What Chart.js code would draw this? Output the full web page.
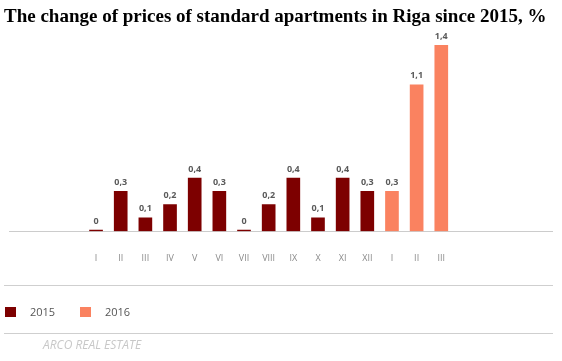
<!DOCTYPE html>
<html>
<head>
<meta charset="utf-8">
<script src="https://cdn.jsdelivr.net/npm/chart.js@4/dist/chart.umd.min.js"></script>
<style>
  html, body { margin: 0; padding: 0; background: #fff; width: 562px; height: 361px; overflow: hidden; }
  #wrap { position: absolute; left: 0; top: 0; width: 562px; height: 286px; }
  .hr { position: absolute; left: 4px; width: 549px; height: 1px; background: #cfcfcf; }
  #legend { position: absolute; left: 0; top: 302px; height: 20px; width: 562px; font-family: "Open Sans", sans-serif; font-size: 11px; color: #555; }
  .item { position: absolute; top: 0; height: 20px; line-height: 20px; }
  .box { position: absolute; width: 11px; height: 10px; top: 5px; }
  #footer { position: absolute; left: 43px; top: 337px; font-family: "Open Sans", sans-serif; font-style: italic; font-size: 12px; color: #c8c8c8; line-height: 16px; }
</style>
</head>
<body>
<div id="wrap"><canvas id="c"></canvas></div>
<div class="hr" style="top:285px"></div>
<div id="legend"></div>
<div class="hr" style="top:333px"></div>
<div id="footer">ARCO REAL ESTATE</div>
<script>
// Category labels (blank slots pad the axis on both sides)
const monthLabels = ['', '', '', 'I', 'II', 'III', 'IV', 'V', 'VI', 'VII', 'VIII', 'IX', 'X', 'XI', 'XII', 'I', 'II', 'III', '', '', '', ''];
// Series values (% change), null where the series has no bar
const values2015 = [null, null, null, 0, 0.3, 0.1, 0.2, 0.4, 0.3, 0, 0.2, 0.4, 0.1, 0.4, 0.3, null, null, null, null, null, null, null];
const values2016 = [null, null, null, null, null, null, null, null, null, null, null, null, null, null, null, 0.3, 1.1, 1.4, null, null, null, null];
const seriesNames = ['2015', '2016'];
const seriesColors = ['#7d0000', '#fa8260'];
const chartTitle = 'The change of prices of standard apartments in Riga since 2015, %';

const valueLabels = {
  id: 'valueLabels',
  afterDatasetsDraw(chart) {
    const ctx = chart.ctx;
    ctx.save();
    ctx.font = 'bold 9px "Open Sans", sans-serif';
    ctx.fillStyle = '#5a5a5a';
    ctx.textAlign = 'center';
    ctx.textBaseline = 'middle';
    chart.data.datasets.forEach((ds, di) => {
      const meta = chart.getDatasetMeta(di);
      meta.data.forEach((bar, i) => {
        const v = ds.data[i];
        if (v === null || v === undefined) return;
        const txt = String(v).replace('.', ',');
        ctx.fillText(txt, bar.x, Math.min(bar.y, bar.base - 1) - 9);
      });
    });
    ctx.restore();
  }
};

const chart = new Chart(document.getElementById('c'), {
  type: 'bar',
  data: {
    labels: monthLabels,
    datasets: [
      { label: seriesNames[0], data: values2015, backgroundColor: seriesColors[0], grouped: false, barThickness: 13, minBarLength: 1 },
      { label: seriesNames[1], data: values2016, backgroundColor: seriesColors[1], grouped: false, barThickness: 13, minBarLength: 1 }
    ]
  },
  options: {
    responsive: true,
    maintainAspectRatio: false,
    animation: false,
    events: [],
    layout: { padding: { left: 4, right: 9, top: 0, bottom: 0 } },
    plugins: {
      legend: { display: false },
      tooltip: { enabled: false },
      title: {
        display: true,
        text: chartTitle,
        align: 'start',
        color: '#000',
        font: { family: '"Liberation Serif", "Times New Roman", serif', size: 19, weight: 'bold', lineHeight: 1.2 },
        padding: { top: 6, bottom: 16.2 }
      }
    },
    scales: {
      x: {
        grid: { display: false, drawTicks: false },
        border: { display: true, color: '#cccccc', width: 1 },
        ticks: { color: '#8a8a8a', font: { family: '"Open Sans", sans-serif', size: 9 }, padding: 22, autoSkip: false, maxRotation: 0 }
      },
      y: {
        display: false,
        min: 0,
        max: 1.4
      }
    }
  },
  plugins: [valueLabels]
});

// Legend built from the series arrays
const legend = document.getElementById('legend');
const legendPos = [5, 80];
seriesNames.forEach((name, i) => {
  const item = document.createElement('div');
  item.className = 'item';
  item.style.left = legendPos[i] + 'px';
  item.innerHTML = '<span class="box" style="left:0;background:' + seriesColors[i] + '"></span><span style="position:absolute;left:25px;white-space:nowrap">' + name + '</span>';
  legend.appendChild(item);
});
</script>
</body>
</html>
